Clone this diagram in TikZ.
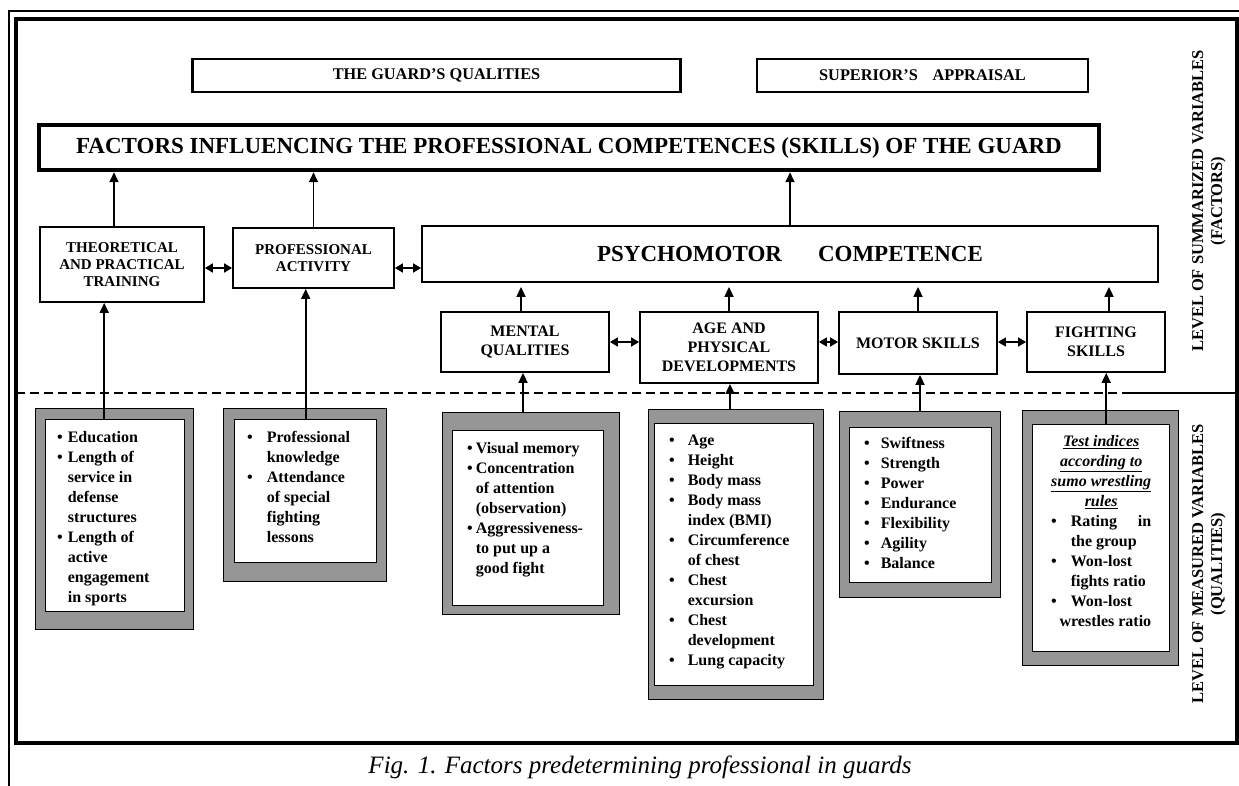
\documentclass[tikz,border=0pt]{standalone}
\usepackage{fontspec}
\setmainfont{Liberation Serif}
\usepackage{xcolor}
\usetikzlibrary{arrows.meta, positioning}

\definecolor{framegray}{RGB}{150,150,150}

\begin{document}
\begin{tikzpicture}[
    x=1pt, y=-1pt,
    box/.style={
        rectangle,
        draw,
        line width=1.8pt,
        align=center,
        inner sep=2pt,
        font=\bfseries\fontsize{15}{17}\selectfont
    },
    subbox/.style={box, font=\bfseries\fontsize{16}{19}\selectfont},
    titlebox/.style={box, line width=2.8pt, font=\bfseries\fontsize{16.3}{18}\selectfont},
    mainbox/.style={box, line width=4.5pt, font=\bfseries\fontsize{23}{26}\selectfont},
    shadowbox/.style={rectangle, draw, line width=1pt, fill=framegray, anchor=north west, inner sep=0pt},
    listbox/.style={rectangle, draw, line width=1.4pt, fill=white, anchor=north west, inner sep=0pt},
    listtext/.style={inner sep=0pt, align=left, font=\bfseries\fontsize{16}{20}\selectfont},
    levellabel/.style={rotate=90, align=center, font=\bfseries\fontsize{16.5}{19}\selectfont},
    arrow/.style={-{Triangle[length=10pt,width=9pt]}, line width=1.7pt},
    dblarrow/.style={{Triangle[length=8pt,width=9pt]}-{Triangle[length=8pt,width=9pt]}, line width=1.7pt}
]
\useasboundingbox (0,0) rectangle (1239,786);

% Frame
\draw[line width=2pt] (1239,11) -- (9,11) -- (9,786);
\draw[line width=3.5pt] (16,19) rectangle (1237,743);
\draw[line width=2.4pt, dash pattern=on 9pt off 5pt] (16,393) -- (1122,393);
\draw[line width=2.8pt] (1122,393) -- (1237,393);

% Summarized level
\node[titlebox, minimum width=488pt, minimum height=33pt] (guardq) at (436.5,75.5) {THE GUARD’S QUALITIES};
\node[titlebox, minimum width=331pt, minimum height=33pt] (superior) at (922.5,75.5) {SUPERIOR’S\hspace{0.9em}APPRAISAL};
\node[mainbox, minimum width=1060pt, minimum height=45pt] (factors) at (569,147.5) {FACTORS INFLUENCING THE PROFESSIONAL COMPETENCES (SKILLS) OF THE GUARD};

\node[box, minimum width=164pt, minimum height=75pt] (theory) at (122,264.5) {THEORETICAL\\AND PRACTICAL\\TRAINING};
\node[box, minimum width=161pt, minimum height=60pt] (profact) at (313.5,258) {PROFESSIONAL\\ACTIVITY};
\node[box, minimum width=736pt, minimum height=56pt, font=\bfseries\fontsize{23}{26}\selectfont] (psycho) at (790,254) {PSYCHOMOTOR\hspace{36pt}COMPETENCE};

\node[subbox, minimum width=168pt, minimum height=60pt] (mental) at (525,342) {MENTAL\\QUALITIES};
\node[subbox, minimum width=178pt, minimum height=71pt] (agephys) at (729,347.5) {AGE AND\\PHYSICAL\\DEVELOPMENTS};
\node[subbox, minimum width=158pt, minimum height=62pt] (motor) at (918,343) {MOTOR SKILLS};
\node[subbox, minimum width=138pt, minimum height=60pt] (fighting) at (1096,342) {FIGHTING\\SKILLS};

\draw[arrow] ([xshift=-8pt]theory.north) -- ([xshift=-8pt]theory.north |- factors.south);
\draw[arrow] (profact.north) -- (profact.north |- factors.south);
\draw[arrow] (psycho.north) -- (psycho.north |- factors.south);

\draw[dblarrow] (theory.east |- 0,268) -- (profact.west |- 0,268);
\draw[dblarrow] (profact.east |- 0,268) -- (psycho.west |- 0,268);

\draw[arrow, shorten >=4pt] ([xshift=-4pt]mental.north) -- ([xshift=-4pt]mental.north |- psycho.south);
\draw[arrow, shorten >=4pt] (agephys.north) -- (agephys.north |- psycho.south);
\draw[arrow, shorten >=4pt] (motor.north) -- (motor.north |- psycho.south);
\draw[arrow, shorten >=4pt] ([xshift=13pt]fighting.north) -- ([xshift=13pt]fighting.north |- psycho.south);

\draw[dblarrow] (mental.east |- 0,342) -- (agephys.west |- 0,342);
\draw[dblarrow] (agephys.east |- 0,342) -- (motor.west |- 0,342);
\draw[dblarrow] (motor.east |- 0,342) -- (fighting.west |- 0,342);

\node[levellabel] (summlabel) at (1209,201) {LEVEL OF SUMMARIZED VARIABLES\\(FACTORS)};

% Measured level
\node[shadowbox, minimum width=158pt, minimum height=221pt] (edushadow) at (35,408) {};
\node[listbox, minimum width=139pt, minimum height=192pt] (edulist) at (45,419) {};
\node[listtext, below right=9.6pt and 12pt of edulist.north west] (edutext) {%
\begin{tabular}{@{}l@{\hspace{5pt}}l@{}}
\textbullet & Education\\
\textbullet & Length of\\
 & service in\\
 & defense\\
 & structures\\
\textbullet & Length of\\
 & active\\
 & engagement\\
 & in sports
\end{tabular}};

\node[shadowbox, minimum width=163pt, minimum height=173pt] (knowshadow) at (223,408) {};
\node[listbox, minimum width=142pt, minimum height=143pt] (knowlist) at (234,419) {};
\node[listtext, below right=9.6pt and 13pt of knowlist.north west] (knowtext) {%
\begin{tabular}{@{}l@{\hspace{14pt}}l@{}}
\textbullet & Professional\\
 & knowledge\\
\textbullet & Attendance\\
 & of special\\
 & fighting\\
 & lessons
\end{tabular}};

\node[shadowbox, minimum width=177pt, minimum height=202pt] (mentshadow) at (442,412) {};
\node[listbox, minimum width=151pt, minimum height=175pt] (mentlist) at (452,430) {};
\node[listtext, below right=9.6pt and 15pt of mentlist.north west] (menttext) {%
\begin{tabular}{@{}l@{\hspace{3pt}}l@{}}
\textbullet & Visual memory\\
\textbullet & Concentration\\
 & of attention\\
 & (observation)\\
\textbullet & Aggressiveness-\\
 & to put up a\\
 & good fight
\end{tabular}};

\node[shadowbox, minimum width=175pt, minimum height=290pt] (ageshadow) at (648,409) {};
\node[listbox, minimum width=159pt, minimum height=262pt] (agelist) at (654,423) {};
\node[listtext, below right=8.6pt and 15pt of agelist.north west] (agetext) {%
\begin{tabular}{@{}l@{\hspace{13pt}}l@{}}
\textbullet & Age\\
\textbullet & Height\\
\textbullet & Body mass\\
\textbullet & Body mass\\
 & index (BMI)\\
\textbullet & Circumference\\
 & of chest\\
\textbullet & Chest\\
 & excursion\\
\textbullet & Chest\\
 & development\\
\textbullet & Lung capacity
\end{tabular}};

\node[shadowbox, minimum width=161pt, minimum height=186pt] (motshadow) at (839,411) {};
\node[listbox, minimum width=142pt, minimum height=155pt] (motlist) at (849,427) {};
\node[listtext, below right=7.6pt and 15pt of motlist.north west] (mottext) {%
\begin{tabular}{@{}l@{\hspace{11pt}}l@{}}
\textbullet & Swiftness\\
\textbullet & Strength\\
\textbullet & Power\\
\textbullet & Endurance\\
\textbullet & Flexibility\\
\textbullet & Agility\\
\textbullet & Balance
\end{tabular}};

\node[shadowbox, minimum width=156pt, minimum height=255pt] (fightshadow) at (1022,410) {};
\node[listbox, minimum width=137pt, minimum height=227pt] (fightlist) at (1032,424) {};
\node[listtext, below=8.6pt of fightlist.north] (fighttext) {%
\begin{tabular}{@{}l@{\hspace{14pt}}l@{}}
\multicolumn{2}{@{}c@{}}{\itshape\underline{Test indices}}\\
\multicolumn{2}{@{}c@{}}{\itshape\underline{according to}}\\
\multicolumn{2}{@{}c@{}}{\itshape\underline{sumo wrestling}}\\
\multicolumn{2}{@{}c@{}}{\itshape\underline{rules}}\\
\textbullet & Rating\hfill in\\
 & the group\\
\textbullet & Won-lost\\
 & fights ratio\\
\textbullet & Won-lost\\
\multicolumn{2}{@{}r@{}}{wrestles ratio}
\end{tabular}};

\draw[arrow] ([xshift=-11pt]edulist.north) -- ([xshift=-11pt]edulist.north |- theory.south);
\draw[arrow] (knowlist.north) -- (knowlist.north |- profact.south);
\draw[arrow] ([xshift=-8pt]mentshadow.north) -- ([xshift=-8pt]mentshadow.north |- mental.south);
\draw[arrow] ([xshift=-6pt]ageshadow.north) -- ([xshift=-6pt]ageshadow.north |- agephys.south);
\draw[arrow] (motshadow.north) -- (motshadow.north |- motor.south);
\draw[arrow] ([xshift=5pt]fightlist.north) -- ([xshift=5pt]fightlist.north |- fighting.south);

\node[levellabel] (measlabel) at (1209,564) {LEVEL OF MEASURED VARIABLES\\(QUALITIES)};

% Caption
\node[font=\itshape\fontsize{25}{29}\selectfont] (caption) at (640,767) {Fig. 1. Factors predetermining professional in guards};

\end{tikzpicture}
\end{document}
